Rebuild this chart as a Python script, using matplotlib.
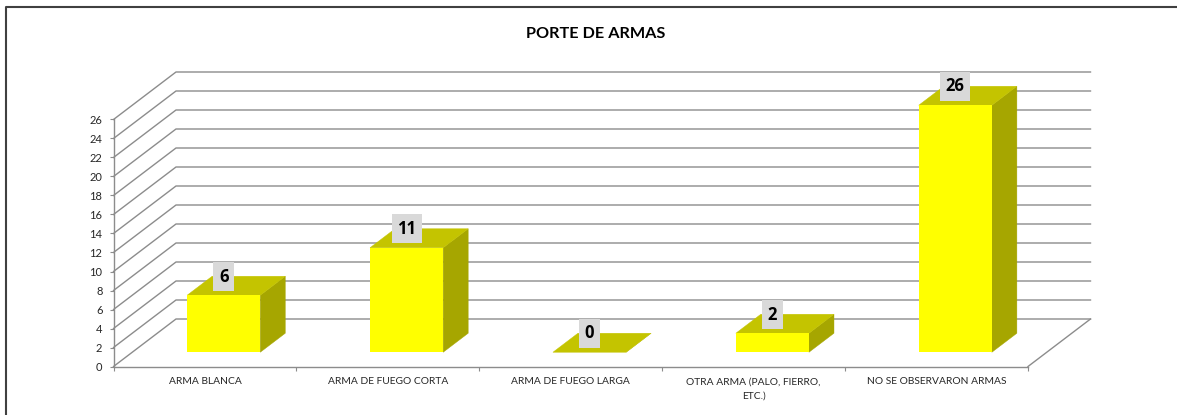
import numpy as np
import matplotlib.pyplot as plt
from matplotlib.lines import Line2D

categories = ['ARMA BLANCA', 'ARMA DE FUEGO CORTA', 'ARMA DE FUEGO LARGA',
              'OTRA ARMA (PALO, FIERRO,\nETC.)', 'NO SE OBSERVARON ARMAS']
values = [6, 11, 0, 2, 26]
y_ticks = list(range(0, 27, 2))
title = 'PORTE DE ARMAS'

W, H = 1177, 415
GRID = '#8c8c8c'
FRONT = '#ffff00'
TOP = '#c4c400'
SIDE = '#a6a600'

plt.rcParams['font.family'] = ['Lato', 'DejaVu Sans']

fig = plt.figure(figsize=(W / 100, H / 100), dpi=100)
ax = fig.add_axes([113.5 / W, 1 - 366.5 / H, 914.5 / W, 247 / H])
ax.set_xlim(0, len(categories))
ax.set_ylim(0, 26)
ax.patch.set_visible(False)

# oblique depth of the chart box, in data units
depth_x = 62.5 / (914.5 / 5)
depth_y = 47.5 / (247 / 26)


def project(x, y, d):
    return x + d * depth_x, y + d * depth_y


# wall and floor lines
for v in y_ticks:
    px, py = project(np.array([0, 0, len(categories)]), np.full(3, v), np.array([0, 1, 1]))
    ax.plot(px, py, color=GRID, lw=1.0, clip_on=False, zorder=1)
px, py = project(np.array([len(categories), len(categories)]), np.zeros(2), np.array([0, 1]))
ax.plot(px, py, color=GRID, lw=1.0, clip_on=False, zorder=1)

# bars
bar_w = 0.4
d0, d1 = 0.3, 0.7
for i, v in enumerate(values):
    x0 = i + 0.5 - bar_w / 2
    x1 = i + 0.5 + bar_w / 2
    # side
    sx, sy = project(np.array([x1, x1, x1, x1]), np.array([0, 0, v, v]), np.array([d0, d1, d1, d0]))
    ax.fill(sx, sy, color=SIDE, lw=0.3, clip_on=False, zorder=3)
    # top
    tx, ty = project(np.array([x0, x1, x1, x0]), np.full(4, v), np.array([d0, d0, d1, d1]))
    ax.fill(tx, ty, color=TOP, lw=0.3, clip_on=False, zorder=3)
    # front
    fx, fy = project(np.array([x0, x1, x1, x0]), np.array([0, 0, v, v]), np.full(4, d0))
    ax.fill(fx, fy, color=FRONT, lw=0, clip_on=False, zorder=4)
    # value label
    lx, ly = project(i + 0.5, v, d0)
    ax.annotate(str(v), (lx, ly), xytext=(0, 13.5), textcoords='offset points',
                ha='center', va='center', fontsize=12, fontweight='bold', color='black',
                family=['Open Sans', 'DejaVu Sans'], zorder=6, annotation_clip=False,
                bbox=dict(boxstyle='square,pad=0.33', fc='#d9d9d9', ec='none'))

for side in ['top', 'right']:
    ax.spines[side].set_visible(False)
for side in ['left', 'bottom']:
    ax.spines[side].set_color(GRID)
    ax.spines[side].set_linewidth(1.0)

ax.set_yticks(y_ticks)
ax.set_xticks(range(len(categories) + 1))
ax.set_xticklabels([])
ax.set_xticks(np.arange(len(categories)) + 0.5, minor=True)
ax.set_xticklabels(categories, minor=True, fontsize=7.35, color='#262626', linespacing=1.8)
ax.tick_params(axis='x', which='major', length=3, width=0.8, color=GRID)
ax.tick_params(axis='x', which='minor', length=0, pad=7.7)
ax.tick_params(axis='y', length=3, width=0.8, color=GRID, labelsize=8, labelcolor='#262626', pad=5)

fig.text(595.5 / W, 1 - 33.5 / H, title, ha='center', va='center', fontsize=11.7, fontweight='bold', color='black')

# chart border, cut off by the screenshot on the other sides
fig.add_artist(Line2D([6 / W, 6 / W, 1], [0, 1 - 7 / H, 1 - 7 / H], color='#404040', lw=1.5))

fig.savefig('out.png', dpi=100, facecolor='white')
